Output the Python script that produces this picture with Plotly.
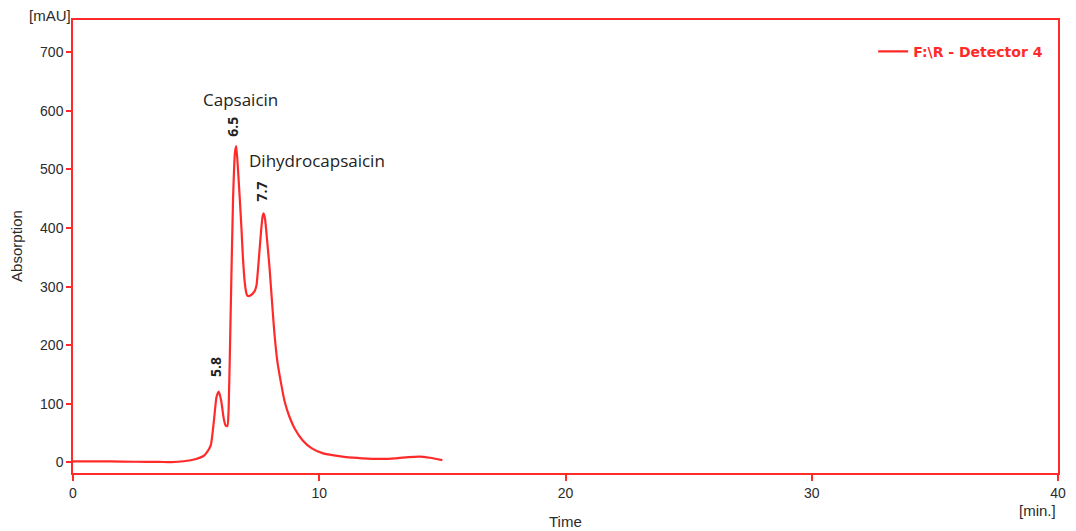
import plotly.graph_objects as go

# Chromatogram
time_min = [0, 1, 2, 3, 3.5, 4, 4.5, 5.0, 5.3, 5.45, 5.6, 5.72, 5.83, 5.92, 6.02, 6.12, 6.2, 6.27,
            6.32, 6.4, 6.5, 6.58, 6.63, 6.7, 6.77, 6.84, 6.9, 6.98, 7.05, 7.1, 7.2, 7.37,
            7.45, 7.51, 7.58, 7.64, 7.7, 7.74, 7.8, 7.88, 7.98, 8.08, 8.18, 8.3, 8.45, 8.6,
            8.79, 9.0, 9.32, 9.7, 10.13, 10.6, 11.08, 11.75, 12.5, 13.1, 13.6, 14.06, 14.5, 15.0]
absorption = [2, 2, 1.5, 1, 1, 0.5, 2, 6, 11, 18, 30, 70, 112, 121, 105, 75, 63, 62,
              90, 250, 450, 530, 540, 500, 452, 400, 350, 305, 287, 284, 285, 292,
              302, 328, 365, 396, 420, 425, 415, 380, 333, 275, 220, 172, 135, 103,
              78, 58, 38, 24, 16, 12, 9, 7, 6, 7, 9, 10, 8, 4]

series_name = "F:\\R - Detector 4"

x_ticks = [0, 10, 20, 30, 40]
y_ticks = [0, 100, 200, 300, 400, 500, 600, 700]

peak_names = ["Capsaicin", "Dihydrocapsaicin"]
peak_name_x = [6.8, 9.92]
peak_name_y = [620, 515]

rt_labels = ["5.8", "6.5", "7.7"]
rt_label_x = [5.79, 6.48, 7.65]
rt_label_y = [162, 572, 463]

RED = "#ff2a2a"
TXT = "#2b2b2b"

fig = go.Figure()
fig.add_trace(go.Scatter(
    x=time_min, y=absorption, mode="lines", name=series_name,
    line=dict(color=RED, width=2.2, shape="spline", smoothing=0.5),
))

for name, xx, yy in zip(peak_names, peak_name_x, peak_name_y):
    fig.add_annotation(x=xx, y=yy, xref="x", yref="y", text=name, showarrow=False,
                       font=dict(family="Open Sans", size=17, color="#222222"))

for lab, xx, yy in zip(rt_labels, rt_label_x, rt_label_y):
    fig.add_annotation(x=xx, y=yy, xref="x", yref="y", text=lab, showarrow=False,
                       textangle=-90,
                       font=dict(family="Open Sans", size=14, color="#222222", weight="bold"))

axis_font = dict(family="Liberation Sans", size=14, color=TXT)
label_font = dict(family="Liberation Sans", size=15, color=TXT)
for txt, px, py, ang in [("Absorption", -0.0567, 0.5017, -90),
                         ("Time", 0.5, -0.106, 0),
                         ("[min.]", 0.9787, -0.0836, 0),
                         ("[mAU]", -0.0233, 1.01, 0)]:
    fig.add_annotation(x=px, y=py, xref="paper", yref="paper", text=txt,
                       xanchor="center", yanchor="middle", textangle=ang,
                       showarrow=False, font=label_font)

fig.update_layout(
    width=1068, height=523,
    margin=dict(l=65, r=15, t=10.5, b=58),
    paper_bgcolor="white", plot_bgcolor="white",
    showlegend=True,
    legend=dict(x=0.99, y=0.965, xanchor="right", yanchor="top",
                bgcolor="rgba(0,0,0,0)", itemwidth=30,
                font=dict(family="DejaVu Sans", size=14, color=RED, weight="bold")),
    xaxis=dict(range=[0, 40], tickvals=x_ticks, ticktext=[str(v) for v in x_ticks],
               showgrid=False, zeroline=False, showline=True, linecolor=RED, linewidth=1.5,
               mirror=True, ticks="outside", ticklen=6, tickcolor=RED, tickwidth=1.5,
               tickfont=axis_font),
    yaxis=dict(range=[-18, 755], tickvals=y_ticks, ticktext=[str(v) for v in y_ticks],
               showgrid=False, zeroline=False, showline=True, linecolor=RED, linewidth=1.5,
               mirror=True, ticks="outside", ticklen=5, tickcolor=RED, tickwidth=1.5,
               tickfont=axis_font),
)

fig.write_html("out.html")
